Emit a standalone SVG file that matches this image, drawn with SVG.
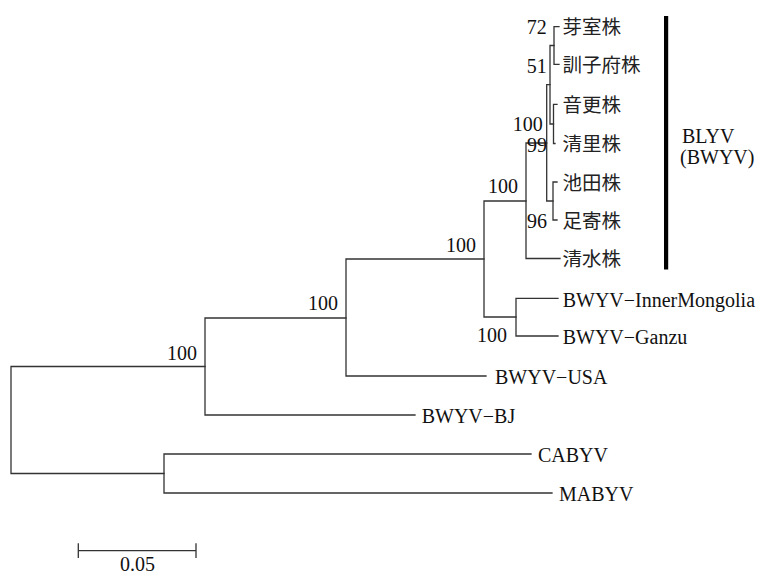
<svg xmlns="http://www.w3.org/2000/svg" width="769" height="575" viewBox="0 0 769 575">
<style>
.br{fill:none;stroke:#333;stroke-width:1.3;stroke-linecap:square}
.t{font-size:20px;fill:#111}
.j{font-size:19.5px;fill:#222}
.n{font-size:20px;fill:#111}
</style>
<rect width="769" height="575" fill="#fff"/>
<g id="connectors" class="br">
<path d="M11,366.5V473.5M11,366.5H205M11,473.5H164"/>
<path d="M205,318V415M205,318H346M205,415H415"/>
<path d="M164,454V493M164,454H531M164,493H552"/>
<path d="M346,259V376M346,259H484M346,376H486"/>
<path d="M484,201V317M484,201H526M484,317H516"/>
<path d="M516,298.3V336M516,298.3H558M516,336H558"/>
<path d="M526,143V258.5M526,143H546.7M526,258.5H560"/>
<path d="M546.7,84.7V201M546.7,84.7H550M546.7,201H553"/>
<path d="M553,182V220M553,182H557M553,220H557"/>
<path d="M550,45.5V124M550,45.5H554M550,124H553.5"/>
<path d="M553.5,104.3V143.5M553.5,104.3H557M553.5,143.5H555"/>
<path d="M554,26.7V64.3M554,26.7H559M554,64.3H559"/>
</g>
<g id="bootstrap" class="n" font-family="'Liberation Serif', serif">
<text x="546.7" y="34" text-anchor="end">72</text>
<text x="546.7" y="73" text-anchor="end">51</text>
<text x="542.7" y="130.5" text-anchor="end">100</text>
<text x="527" y="151.5">99</text>
<text x="527" y="228">96</text>
<text x="518" y="193" text-anchor="end">100</text>
<text x="476" y="252" text-anchor="end">100</text>
<text x="507" y="342" text-anchor="end">100</text>
<text x="338" y="310" text-anchor="end">100</text>
<text x="197" y="360" text-anchor="end">100</text>
</g>
<g font-family="'Noto Sans CJK JP', sans-serif">
<g id="leaf-memuro"><text class="j" x="562.5" y="34">芽室株</text></g>
<g id="leaf-kunneppu"><text class="j" x="562.5" y="71.8">訓子府株</text></g>
<g id="leaf-otofuke"><text class="j" x="562.5" y="111.8">音更株</text></g>
<g id="leaf-kiyosato"><text class="j" x="562.5" y="151">清里株</text></g>
<g id="leaf-ikeda"><text class="j" x="562.5" y="189.5">池田株</text></g>
<g id="leaf-ashoro"><text class="j" x="562.5" y="227.5">足寄株</text></g>
<g id="leaf-shimizu"><text class="j" x="562.5" y="266">清水株</text></g>
</g>
<g font-family="'Liberation Serif', serif">
<g id="leaf-innermongolia"><text class="t" x="562.7" y="306.5">BWYV−InnerMongolia</text></g>
<g id="leaf-ganzu"><text class="t" x="562.7" y="344">BWYV−Ganzu</text></g>
<g id="leaf-usa"><text class="t" x="495" y="384">BWYV−USA</text></g>
<g id="leaf-bj"><text class="t" x="421.7" y="423">BWYV−BJ</text></g>
<g id="leaf-cabyv"><text class="t" x="538" y="462">CABYV</text></g>
<g id="leaf-mabyv"><text class="t" x="559" y="501">MABYV</text></g>
<g id="group-blyv">
<rect x="664" y="16" width="4.2" height="253.5" fill="#000"/>
<text class="t" x="682" y="143.3">BLYV</text>
<text class="t" x="680" y="163.5">(BWYV)</text>
</g>
<g id="scale-bar">
<path class="br" d="M78.3,550.7H196M78.3,544V557.3M196,544V557.3"/>
<text class="n" x="137.5" y="571" text-anchor="middle">0.05</text>
</g>
</g>
</svg>
